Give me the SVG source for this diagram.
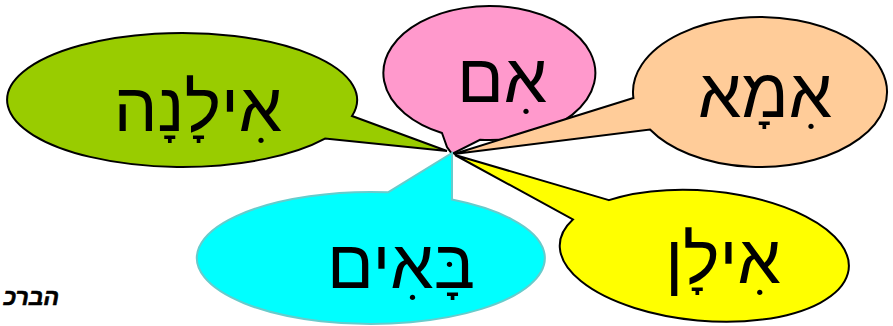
<svg xmlns="http://www.w3.org/2000/svg" width="893" height="326" viewBox="0 0 893 326">
<style>
.b{stroke:#000;stroke-width:2;stroke-linejoin:miter}
.t{font-family:"Liberation Sans","DejaVu Sans",sans-serif;font-size:69px;fill:#000;text-anchor:middle}
.n{font-family:"Liberation Sans","DejaVu Sans",sans-serif;font-size:23px;font-weight:bold;font-style:italic;fill:#000;stroke:#000;stroke-width:0.6;text-anchor:end}
</style>
<rect width="893" height="326" fill="#fff"/>
<g id="connectors"></g>
<g id="node-ilana">
<path class="b" fill="#99cc00" d="M352,116 L447,151 L325,138.6 A175 67 0 1 1 352,116 Z"/>
<text class="t" x="198" y="131">אִילָנָה</text>
</g>
<g id="node-em">
<path class="b" fill="#ff99cc" d="M442,133 L447,147 L452,154 L480,139.8 A106 67 0 1 0 442,133 Z"/>
<text class="t" x="502" y="102">אִם</text>
</g>
<g id="node-ima">
<path class="b" fill="#ffcc99" d="M633.4,98 L454,154 L650,129.5 A127 75 0 1 0 633.4,98 Z"/>
<text class="t" x="765" y="117">אִמָא</text>
</g>
<g id="node-ilan">
<path class="b" fill="#ffff00" d="M608.9,200.1 L455,155 L572.9,219.4 A145 65 5 1 0 608.9,200.1 Z"/>
<text class="t" x="723" y="283">אִילָן</text>
</g>
<g id="node-baim">
<path fill="#00ffff" stroke="#66cccc" stroke-width="2" d="M388,192.3 L452,153 L452,199.6 A174 66 0 1 1 388,192.3 Z"/>
<text class="t" x="401" y="288">בָּאִים</text>
</g>
<text class="n" x="59" y="305">הברכ</text>
</svg>
